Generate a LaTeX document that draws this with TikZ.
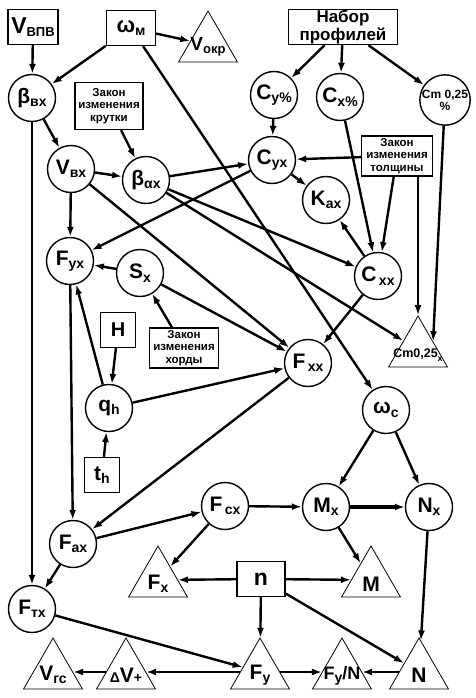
\documentclass[tikz,border=0pt]{standalone}
\usepackage{fontspec}
\setmainfont{Liberation Sans}
\usetikzlibrary{arrows.meta,shapes.geometric,calc}
\newcommand\sbx[2][14]{\raisebox{-3.5pt}{\fontsize{#1}{#1}\selectfont #2}}
\tikzset{
  circ/.style={circle, draw, line width=1.4pt, minimum size=47pt, inner sep=0pt, fill=white,
    font=\fontsize{21}{21}\selectfont\bfseries},
  box/.style={rectangle, draw, line width=1.4pt, inner sep=0pt, fill=white,
    font=\fontsize{20}{20}\selectfont\bfseries},
  law/.style={box, minimum width=69pt, minimum height=40pt, align=center,
    font=\fontsize{11.5}{12.5}\selectfont\bfseries},
  tri/.style={regular polygon, regular polygon sides=3, draw, line width=0.8pt,
    minimum size=68pt, inner sep=0pt, fill=white},
  tlab/.style={inner sep=0pt, font=\fontsize{21}{21}\selectfont\bfseries},
  arr/.style={-{Latex[length=10pt,width=7pt]}, line width=2.4pt},
}
\begin{document}
\begin{tikzpicture}[x=1pt,y=-1pt]
\fill[white] (0,0) rectangle (475,698);
\useasboundingbox (0,0) rectangle (475,698);
% top row
\node[box, minimum width=50pt, minimum height=35pt, font=\fontsize{23}{23}\selectfont\bfseries] (Vvpv) at (33,27) {V\sbx[13]{ВПВ}};
\node[box, minimum width=49pt, minimum height=35pt, font=\fontsize{22}{22}\selectfont\bfseries] (wm) at (131,28) {ω\sbx{м}};
\node[tri, label={[tlab, font=\fontsize{19}{19}\selectfont\bfseries, yshift=-2pt]center:{V\sbx[13]{окр}}}] (Vokr) at (208,45) {};
\node[box, minimum width=109pt, minimum height=35pt, align=center, font=\fontsize{17}{15}\selectfont\bfseries] (nab) at (343,27) {Набор\\профилей};
% second row
\node[circ] (bvx) at (32,98) {β\sbx{вх}};
\node[law, minimum width=68pt, minimum height=47pt] (zk) at (109,106) {Закон\\изменения\\крутки};
\node[circ] (Cyp) at (274,95) {C\sbx{y\%}};
\node[circ] (Cxp) at (340,97) {C\sbx{x\%}};
\node[circ, align=center, font=\fontsize{12}{12}\selectfont\bfseries] (Cmp) at (445,100) {Cm 0,25\\\%};
% third row
\node[circ] (Vvx) at (71,169) {V\sbx{вх}};
\node[circ] (bax) at (146,180) {β\sbx{αx}};
\node[circ] (Cyx) at (272,160) {C\sbx{yx}};
\node[law, minimum width=71pt] (zt) at (397,156) {Закон\\изменения\\толщины};
\node[circ] (Kax) at (326,200) {K\sbx{ax}};
% middle
\node[circ] (Fyx) at (70,261) {F\sbx{yx}};
\node[circ] (Sx) at (140,273) {S\sbx{x}};
\node[circ] (Cxx) at (378,276) {C\sbx{\,xx}};
\node[tri, label={[tlab, font=\fontsize{12.5}{12.5}\selectfont\bfseries, yshift=-5pt]center:{Cm0,25\sbx[9]{x}}}] (CmX) at (418,350) {};
\node[box, minimum width=35pt, minimum height=35pt] (H) at (118,330) {H};
\node[law] (zh) at (184,348) {Закон\\изменения\\хорды};
\node[circ] (Fxx) at (308,363) {F\sbx{\,xx}};
\node[circ] (qh) at (109,408) {q\sbx{h}};
\node[circ] (wc) at (386,410) {ω\sbx{c}};
\node[box, minimum width=35pt, minimum height=35pt, font=\fontsize{21}{21}\selectfont\bfseries] (th) at (102,475) {t\sbx{h}};
% lower
\node[circ] (Fcx) at (225,506) {F\sbx{\,cx}};
\node[circ] (Mx) at (326,507) {M\sbx{x}};
\node[circ] (Nx) at (429,507) {N\sbx{x}};
\node[circ] (Fax) at (73,544) {F\sbx{ax}};
\node[tri, label={[tlab, yshift=-4pt]center:{F\sbx{x}}}] (Fx) at (158,580) {};
\node[box, minimum width=48pt, minimum height=35pt, font=\fontsize{23}{23}\selectfont\bfseries] (n) at (261,579) {n};
\node[tri, label={[tlab, yshift=-4pt]center:{M}}] (M) at (371,580) {};
\node[circ] (Ftx) at (32,609) {F\sbx{тх}};
% bottom row
\node[tri, label={[tlab, yshift=-3pt]center:{V\sbx{гс}}}] (Vgc) at (53,672) {};
\node[tri, label={[tlab, yshift=-3pt]center:{{\fontsize{14}{14}\selectfont Δ}V{\fontsize{14}{14}\selectfont +}}}] (dV) at (126,672) {};
\node[tri, label={[tlab, yshift=-3pt]center:{F\sbx{y}}}] (Fy) at (260,672) {};
\node[tri, label={[tlab, font=\fontsize{18}{18}\selectfont\bfseries, yshift=-4pt]center:{F\sbx{y}/N}}] (FyN) at (342,672) {};
\node[tri, label={[tlab, yshift=-3pt]center:{N}}] (N) at (419,672) {};
% connectors
\draw[arr] (Vvpv) -- (bvx);
\draw[arr] (wm) -- (bvx);
\draw[arr] (wm) -- (Vokr);
\draw[arr] (wm) -- (wc);
\draw[arr] (nab) -- (Cyp);
\draw[arr] (nab) -- (Cxp);
\draw[arr] (nab) -- (Cmp);
\draw[arr] (bvx) -- (Vvx);
\draw[arr] (bvx) -- (Ftx);
\draw[arr] (zk) -- (bax);
\draw[arr] (Vvx) -- (bax);
\draw[arr] (Vvx) -- (Fyx);
\draw[arr] (Vvx) -- (Fxx);
\draw[arr] (bax) -- (Cyx);
\draw[arr] (bax) -- (Cxx);
\draw[arr] (bax) -- (CmX);
\draw[arr] (Cyp) -- (Cyx);
\draw[arr] (zt) -- (Cyx);
\draw[arr] (Cyx) -- (Kax);
\draw[arr] (Cyx) -- (Fyx);
\draw[arr] (Cxp) -- (Cxx);
\draw[arr] (zt) -- (Cxx);
\draw[arr] (Cxx) -- (Kax);
\draw[arr] (Cxx) -- (Fxx);
\draw[arr] (zt.south -| CmX.corner 1) -- (CmX.corner 1);
\draw[arr] (Cmp) -- (CmX.side 3);
\draw[arr] (Sx) -- (Fyx);
\draw[arr] (Sx) -- (Fxx);
\draw[arr] (zh) -- (Sx);
\draw[arr] (H) -- (qh);
\draw[arr] (th) -- (qh);
\draw[arr] (qh) -- (Fyx);
\draw[arr] (qh) -- (Fxx);
\draw[arr] (Fyx) -- (Fax);
\draw[arr] (Fxx) -- (Fax);
\draw[arr] (Fax) -- (Fcx);
\draw[arr] (Fax) -- (Ftx);
\draw[arr] (wc) -- (Mx);
\draw[arr] (wc) -- (Nx);
\draw[arr, line width=3.4pt] (Mx) -- (Nx);
\draw[arr] (Fcx) -- (Mx);
\draw[arr] (Fcx) -- (Fx);
\draw[arr] (n) -- (Fx);
\draw[arr] (n) -- (M);
\draw[arr] (Mx) -- (M);
\draw[arr] (n) -- (Fy);
\draw[arr] (n) -- (N);
\draw[arr] (Nx) -- (N);
\draw[arr] (Ftx) -- (Fy);
\draw[arr] (Fy) -- (dV);
\draw[arr] (dV) -- (Vgc);
\draw[arr] (Fy) -- (FyN);
\draw[arr] (N) -- (FyN);
\end{tikzpicture}
\end{document}
